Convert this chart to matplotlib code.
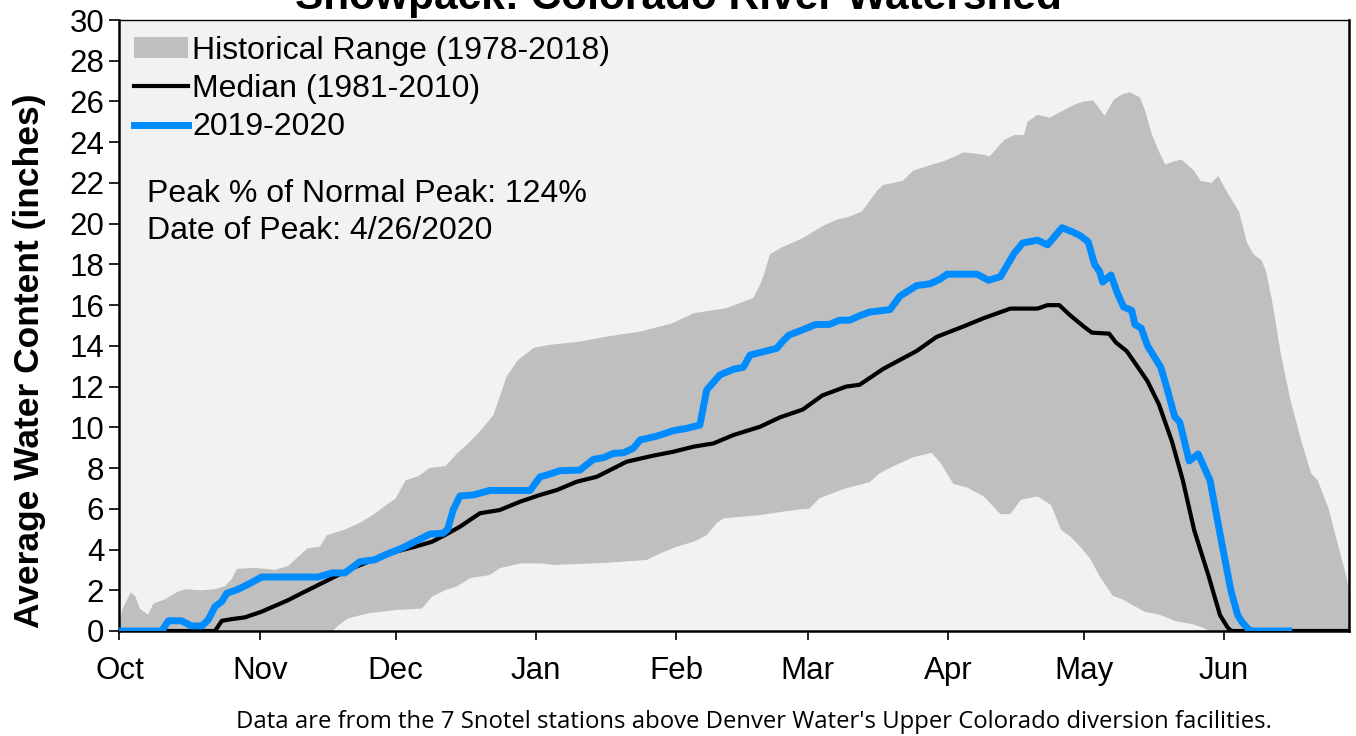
import numpy as np
import matplotlib.pyplot as plt

plt.rcParams['font.family'] = ['Liberation Sans', 'DejaVu Sans']

# days since Oct 1 (water year 2019-2020)
month_days = [0, 31, 61, 92, 123, 152, 183, 213, 244]
month_labels = ['Oct', 'Nov', 'Dec', 'Jan', 'Feb', 'Mar', 'Apr', 'May', 'Jun']

# historical range (1978-2018), upper edge
max_days = [0, 0.5, 2.5, 3.5, 4.5, 6.3, 7.5, 10, 12.6, 14.5, 18, 21, 23.3, 24.8, 25.9,
            30, 34.3, 37.3, 39.5, 41.5, 44.3, 45.8, 50, 53, 56, 59, 61, 63.2, 66, 68.5,
            72, 74.5, 77, 79.6, 82.6, 84, 85.5, 88, 91.5, 95, 101.5, 107.5, 115, 122,
            126.8, 134, 137, 140, 141.5, 142.5, 143.7, 146, 151, 155.5, 158.5, 161.3,
            164, 167.3, 168.7, 173, 175.3, 179.5, 182.5, 186.5, 190.5, 192.2, 195.4,
            197.6, 199.8, 200.6, 202.8, 205.5, 208, 211, 213, 215.1, 217.6, 219.7,
            221.5, 223.2, 225.4, 226.4, 228.2, 229.6, 231, 232.8, 234.6, 237.4, 238.8,
            241.3, 242.7, 244.8, 247.3, 249.1, 250.5, 252.3, 253.3, 254.7, 256.5,
            258.6, 261.1, 263.2, 264.7, 267.1, 268.9, 271, 271.6]
max_vals = [0.2, 1.0, 1.9, 1.7, 1.1, 0.8, 1.35, 1.55, 1.9, 2.05, 2.0, 2.05, 2.2, 2.55, 3.05,
            3.1, 3.0, 3.2, 3.65, 4.05, 4.15, 4.7, 5.0, 5.3, 5.7, 6.2, 6.5, 7.4, 7.6, 8.0,
            8.1, 8.7, 9.2, 9.8, 10.6, 11.5, 12.5, 13.3, 13.9, 14.05, 14.2, 14.45, 14.7, 15.1,
            15.6, 15.85, 16.1, 16.35, 17.0, 17.6, 18.5, 18.8, 19.3, 19.9, 20.2, 20.35,
            20.6, 21.6, 21.9, 22.1, 22.6, 22.9, 23.1, 23.5, 23.4, 23.3, 24.1,
            24.35, 24.35, 25.0, 25.35, 25.2, 25.5, 25.85, 26.0, 26.05, 25.3, 26.1,
            26.35, 26.45, 26.2, 25.65, 24.3, 23.55, 22.9, 23.05, 23.15, 22.6, 22.1,
            22.0, 22.35, 21.5, 20.6, 19.05, 18.5, 18.2, 17.65, 16.1, 13.65,
            11.4, 9.3, 7.75, 7.4, 6.0, 4.45, 2.7, 2.0]

# historical range, lower edge
min_days = [0, 47, 48.5, 50.5, 55, 61, 66.8, 69, 71.9, 74.5, 77.4, 81.8, 84, 88.5, 93, 96,
            107.6, 116.5, 119.4, 123.1, 126.8, 129.7, 131.9, 133.4, 141.5, 146.6, 150.3,
            152.4, 154.6, 159.8, 165.7, 167.9, 170.9, 175.3, 179.4, 181.3, 184.2, 187.2,
            190.9, 194.6, 196.8, 199.1, 202.8, 205.8, 208.0, 210.2, 212.4, 214.4, 216.5,
            219.4, 221.5, 223.6, 226.4, 230, 233.5, 237, 239.2, 241, 271.6]
min_vals = [0, 0, 0.3, 0.62, 0.87, 1.03, 1.1, 1.68, 2.0, 2.18, 2.59, 2.75, 3.08, 3.32, 3.32, 3.24,
            3.35, 3.49, 3.81, 4.14, 4.38, 4.71, 5.29, 5.53, 5.69, 5.86, 5.97,
            6.0, 6.52, 6.96, 7.31, 7.74, 8.09, 8.53, 8.75, 8.27, 7.22, 7.05,
            6.61, 5.74, 5.74, 6.44, 6.61, 6.18, 4.96, 4.61, 4.09, 3.56, 2.69,
            1.73, 1.56, 1.3, 0.95, 0.78, 0.47, 0.34, 0.17, 0, 0]

# median (1981-2010)
med_days = [0, 21.1, 22.6, 24.4, 27.7, 31.4, 37.3, 40.2, 47.6, 50.5, 55, 60.9, 65.3, 69, 71.9,
            75.2, 79.6, 84, 88.5, 92.9, 96.6, 101, 105.4, 112, 117.9, 122.3, 126.8, 131.2,
            135.6, 141.5, 145.9, 150.9, 155.3, 160.5, 163.5, 168.7, 172.4, 176.1, 180.5,
            186.5, 190.9, 196.8, 202.8, 205.0, 207.6, 210, 213, 214.8, 218.6, 220.1, 222.5,
            224.7, 227.1, 229.6, 232.5, 234.9, 237.4, 240.6, 243.1, 244.8, 245.6, 271.6]
med_vals = [0, 0, 0.5, 0.57, 0.67, 0.95, 1.52, 1.85, 2.67, 3.0, 3.4, 3.89, 4.14, 4.38, 4.71,
            5.12, 5.78, 5.94, 6.35, 6.68, 6.92, 7.33, 7.57, 8.31, 8.61, 8.8, 9.05, 9.21,
            9.62, 10.03, 10.49, 10.87, 11.57, 12.0, 12.09, 12.87, 13.31, 13.75, 14.44,
            14.96, 15.36, 15.83, 15.83, 16.0, 16.0, 15.5, 14.95, 14.65, 14.6, 14.17, 13.74,
            13.04, 12.26, 11.13, 9.3, 7.39, 4.95, 2.69, 0.78, 0.17, 0, 0]

# water year 2019-2020
wy_days = [0, 9.3, 10.8, 13.7, 15.9, 18.2, 19.6, 21.1, 22.6, 23.7, 26.2, 28.5, 31.4, 43.9,
           46.9, 49.8, 53.1, 56.4, 58.6, 62.3, 66, 68.6, 71.5, 72.5, 73.7, 75.2, 78.2, 81.8,
           90.7, 92.9, 94.4, 97.3, 101.7, 104.7, 106.9, 109.1, 111.3, 113.5, 115, 118.7,
           122.3, 125.3, 128.2, 129.7, 132.6, 135.6, 137.8, 139.3, 142.2, 145.2, 146.4,
           147.9, 150.9, 153.8, 156.8, 159, 161.3, 163.5, 165.7, 170.2, 172.4, 176.1,
           179.1, 181.3, 182.8, 189.4, 192, 194.6, 197.6, 199.5, 202.8, 205, 208.2,
           210.5, 212.3, 214, 215.4, 216.5, 217.2, 219, 220.4, 221.8, 223.6, 224.3,
           225.7, 227.1, 230, 231.4, 233.1, 234.2, 236.3, 238.3, 240.9, 243.4, 245.5,
           247, 248, 249.4, 250, 258.3]
wy_vals = [0, 0, 0.5, 0.5, 0.25, 0.25, 0.55, 1.2, 1.45, 1.85, 2.05, 2.3, 2.65, 2.65,
           2.85, 2.85, 3.4, 3.5, 3.73, 4.06, 4.47, 4.76, 4.8, 5.0, 5.94, 6.63, 6.68, 6.9,
           6.9, 7.57, 7.66, 7.87, 7.9, 8.43, 8.51, 8.72, 8.75, 8.97, 9.38, 9.57,
           9.83, 9.95, 10.11, 11.83, 12.57, 12.85, 12.95, 13.55, 13.71, 13.88, 14.2,
           14.53, 14.79, 15.05, 15.05, 15.26, 15.26, 15.48, 15.66, 15.78, 16.44, 16.96,
           17.05, 17.28, 17.52, 17.52, 17.22, 17.4, 18.53, 19.05, 19.19, 18.96, 19.8,
           19.6, 19.4, 19.1, 18.0, 17.65, 17.13, 17.48, 16.61, 15.91, 15.74, 15.05,
           14.87, 14.0, 12.96, 11.91, 10.52, 10.26, 8.35, 8.69, 7.39, 4.43, 2.0,
           0.78, 0.43, 0.08, 0, 0]

W, H = 1356, 736
fig = plt.figure(figsize=(W / 100, H / 100), dpi=100)
ax = fig.add_axes([119.5 / W, (H - 631) / H, (1349 - 119.5) / W, (631 - 20) / H])
ax.set_facecolor('#F2F2F2')

# gray band as a polygon: upper edge then lower edge backwards
band_x = np.concatenate([max_days, min_days[::-1]])
band_y = np.concatenate([max_vals, min_vals[::-1]])
band = ax.fill(band_x, band_y, color='#BFBFBF', lw=0, zorder=1,
               label='Historical Range (1978-2018)')[0]
med_line, = ax.plot(med_days, med_vals, color='black', lw=3, zorder=3,
                    solid_joinstyle='round', label='Median (1981-2010)')
wy_line, = ax.plot(wy_days, wy_vals, color='#008CFF', lw=5, zorder=4,
                   solid_joinstyle='round', label='2019-2020')

ax.set_xlim(0, 271.6)
ax.set_ylim(0, 30)
ax.set_yticks(range(0, 31, 2))
ax.set_xticks(month_days)
ax.set_xticklabels(month_labels)
ax.tick_params(axis='both', direction='out', labelsize=22.5, width=1.2, color='black')
ax.tick_params(axis='x', length=6.5, pad=11.5)
ax.tick_params(axis='y', length=7, pad=4)
for side in ['left', 'bottom', 'right']:
    ax.spines[side].set_linewidth(1.8)
ax.spines['top'].set_linewidth(1.0)

leg = ax.legend(handles=[band, med_line, wy_line], loc='upper left',
                bbox_to_anchor=(-0.006, 1.011), frameon=False, fontsize=23,
                handlelength=1.66, handletextpad=0.15, labelspacing=0.26,
                borderaxespad=0.3, handleheight=0.6)

fig.text(147 / W, 1 - 201.7 / H, 'Peak % of Normal Peak: 124%', fontsize=23, va='baseline')
fig.text(147 / W, 1 - 239 / H, 'Date of Peak: 4/26/2020', fontsize=23, va='baseline')

fig.text(30 / W, 1 - 361 / H, 'Average Water Content (inches)', fontsize=25.5,
         fontweight='bold', rotation=90, ha='center', va='center')
fig.text(0.5, 1 - 9.5 / H, 'Snowpack: Colorado River Watershed', fontsize=30.5,
         fontweight='bold', ha='center', va='baseline')
fig.text(754 / W, 1 - 728 / H,
         "Data are from the 7 Snotel stations above Denver Water's Upper Colorado diversion facilities.",
         fontsize=17.2, family=['Open Sans', 'DejaVu Sans'], ha='center', va='baseline')

fig.savefig('out.png', dpi=100)
